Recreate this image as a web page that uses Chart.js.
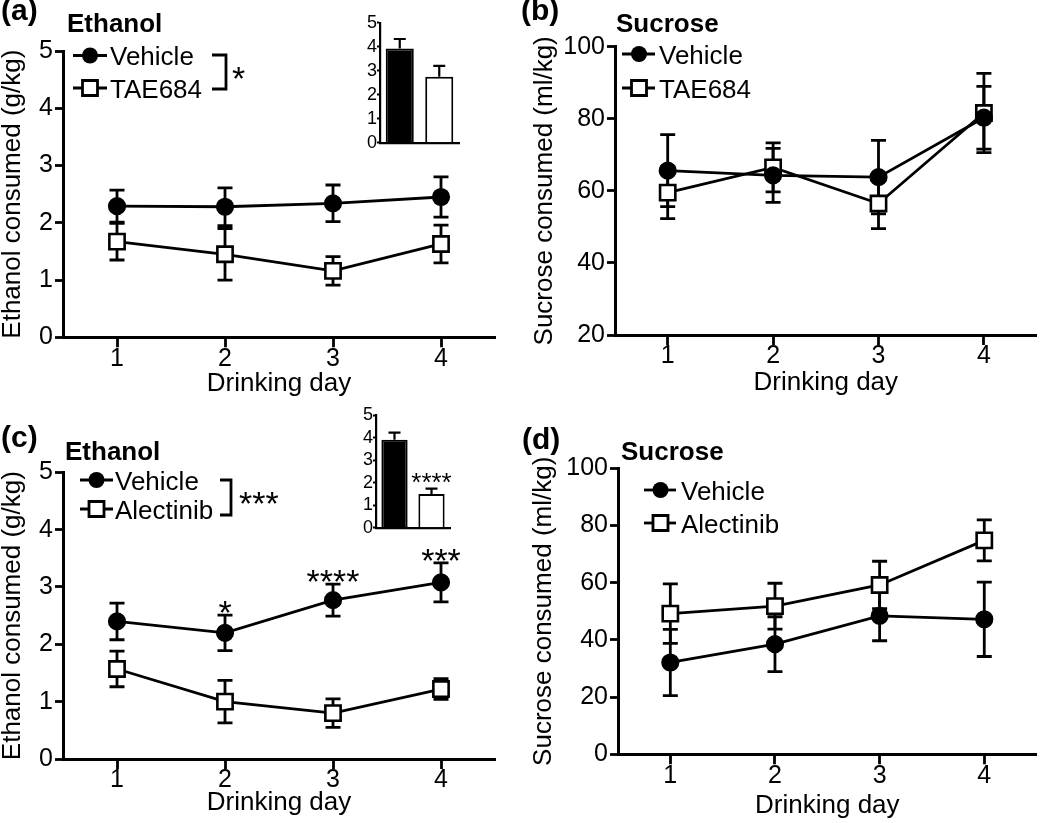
<!DOCTYPE html>
<html>
<head>
<meta charset="utf-8">
<script src="https://cdn.jsdelivr.net/npm/chart.js@4.4.1/dist/chart.umd.min.js"></script>
<style>
  html, body { margin: 0; padding: 0; background: #fff; }
  #fig { position: relative; width: 1050px; height: 823px; overflow: hidden; }
  #fig canvas { position: absolute; }
</style>
</head>
<body>
<div id="fig">
  <canvas id="panelA" width="520" height="410" style="left:0;top:0"></canvas>
  <canvas id="panelB" width="530" height="410" style="left:520px;top:0"></canvas>
  <canvas id="panelC" width="520" height="413" style="left:0;top:410px"></canvas>
  <canvas id="panelD" width="530" height="413" style="left:520px;top:410px"></canvas>
  <canvas id="insetA" width="115" height="155" style="left:350px;top:0"></canvas>
  <canvas id="insetC" width="110" height="135" style="left:346px;top:405px"></canvas>
</div>
<script>
// data (mean and SEM per drinking day)
const days = ['1', '2', '3', '4'];

const ethA_vehicle = [2.29, 2.28, 2.34, 2.45];
const ethA_vehicleSem = [0.28, 0.33, 0.32, 0.35];
const ethA_tae = [1.67, 1.45, 1.16, 1.63];
const ethA_taeSem = [0.32, 0.45, 0.25, 0.33];

const sucB_vehicle = [65.6, 64.3, 63.8, 80.3];
const sucB_vehicleSem = [10.0, 7.5, 10.2, 8.7];
const sucB_tae = [59.5, 66.5, 56.5, 81.6];
const sucB_taeSem = [7.2, 6.8, 7.0, 11.0];

const ethC_vehicle = [2.40, 2.20, 2.77, 3.08];
const ethC_vehicleSem = [0.32, 0.31, 0.28, 0.34];
const ethC_alec = [1.57, 1.00, 0.80, 1.22];
const ethC_alecSem = [0.31, 0.37, 0.25, 0.18];
const ethC_sig = ['', '*', '****', '***'];

const sucD_vehicle = [32.1, 38.5, 48.4, 47.2];
const sucD_vehicleSem = [11.6, 9.6, 8.7, 13.0];
const sucD_alec = [49.2, 51.8, 59.2, 74.8];
const sucD_alecSem = [10.4, 8.0, 8.3, 7.2];

// insets: total over the 4 days
const insetGroups = ['Vehicle', 'Drug'];
const insetA_mean = [3.93, 2.75];
const insetA_sem = [0.39, 0.45];
const insetC_mean = [3.90, 1.50];
const insetC_sem = [0.32, 0.23];
const insetC_sig = ['', '****'];

const FONT = "'Liberation Sans', Arial, Helvetica, sans-serif";
Chart.defaults.font.family = FONT;
Chart.defaults.color = '#000';

// SEM whiskers, drawn under the markers
const errorBars = {
  id: 'errorBars',
  beforeDatasetsDraw(chart) {
    const ctx = chart.ctx;
    const y = chart.scales.y;
    ctx.save();
    ctx.strokeStyle = '#000';
    chart.data.datasets.forEach((ds, i) => {
      if (!ds.sem) return;
      const meta = chart.getDatasetMeta(i);
      ctx.lineWidth = ds.errWidth || 2.8;
      const cap = ds.capHalf || 7.5;
      meta.data.forEach((el, j) => {
        const x = el.x;
        const yTop = y.getPixelForValue(ds.data[j] + ds.sem[j]);
        const yBot = ds.upOnly ? y.getPixelForValue(ds.data[j]) : y.getPixelForValue(ds.data[j] - ds.sem[j]);
        ctx.beginPath();
        ctx.moveTo(x, yBot); ctx.lineTo(x, yTop);
        ctx.moveTo(x - cap, yTop); ctx.lineTo(x + cap, yTop);
        if (!ds.upOnly) { ctx.moveTo(x - cap, yBot); ctx.lineTo(x + cap, yBot); }
        ctx.stroke();
      });
    });
    ctx.restore();
  }
};

// significance stars above the upper whisker
const sigStars = {
  id: 'sigStars',
  afterDatasetsDraw(chart, args, o) {
    const ctx = chart.ctx;
    const y = chart.scales.y;
    const size = o.size || 34;
    ctx.save();
    ctx.fillStyle = '#000';
    ctx.textAlign = 'center';
    ctx.textBaseline = 'alphabetic';
    ctx.font = size + 'px ' + FONT;
    chart.data.datasets.forEach((ds, i) => {
      if (!ds.sig) return;
      const meta = chart.getDatasetMeta(i);
      meta.data.forEach((el, j) => {
        if (!ds.sig[j]) return;
        const top = y.getPixelForValue(ds.data[j] + ds.sem[j]);
        ctx.fillText(ds.sig[j], el.x, top - (o.gap || 10) + 0.55 * size);
      });
    });
    ctx.restore();
  }
};

// panel tag, bold heading, legend with line-through markers, bracket
const decor = {
  id: 'decor',
  afterDraw(chart, args, o) {
    if (!o.tag) return;
    const ctx = chart.ctx;
    ctx.save();
    ctx.fillStyle = '#000';
    ctx.strokeStyle = '#000';
    ctx.textAlign = 'left';
    ctx.textBaseline = 'alphabetic';
    ctx.font = 'bold 30px ' + FONT;
    ctx.fillText(o.tag, o.tagX, o.tagY);
    ctx.font = 'bold 26px ' + FONT;
    ctx.fillText(o.title, o.titleX, o.titleY);

    const lg = o.legend;
    ctx.font = '26px ' + FONT;
    chart.data.datasets.forEach((ds, i) => {
      const yy = lg.rows[i];
      ctx.lineWidth = 2.8;
      ctx.beginPath();
      ctx.moveTo(lg.x0, yy); ctx.lineTo(lg.x1, yy);
      ctx.stroke();
      ctx.beginPath();
      if (ds.pointStyle === 'circle') {
        ctx.arc(lg.mx, yy, 8, 0, Math.PI * 2);
        ctx.fillStyle = '#000';
        ctx.fill();
      } else {
        ctx.rect(lg.mx - 7.5, yy - 7.5, 15, 15);
        ctx.fillStyle = '#fff';
        ctx.fill();
        ctx.stroke();
      }
      ctx.fillStyle = '#000';
      ctx.fillText(ds.label, lg.tx, yy + 9.5);
    });

    if (o.bracket) {
      const b = o.bracket;
      ctx.lineWidth = 2.8;
      ctx.beginPath();
      ctx.moveTo(b.x0, b.y0); ctx.lineTo(b.x1, b.y0);
      ctx.lineTo(b.x1, b.y1); ctx.lineTo(b.x0, b.y1);
      ctx.stroke();
      ctx.font = '34px ' + FONT;
      ctx.fillText(b.text, b.tx, b.ty + 0.55 * 34);
    }
    ctx.restore();
  }
};

Chart.register(errorBars, sigStars, decor);

function lineSeries(label, mean, sem, style, sig) {
  const circle = style === 'circle';
  return {
    label, data: mean, sem, sig,
    borderColor: '#000', borderWidth: 2.8, tension: 0, fill: false,
    pointStyle: style,
    pointRadius: circle ? 7.8 : 10.8,
    pointBackgroundColor: circle ? '#000' : '#fff',
    pointBorderColor: '#000', pointBorderWidth: 2.6
  };
}

function drinkingPanel(id, p) {
  const cv = document.getElementById(id);
  const W = cv.width, H = cv.height;
  return new Chart(cv, {
    type: 'line',
    data: { labels: days, datasets: p.series },
    options: {
      responsive: false, animation: false, devicePixelRatio: 1,
      events: [],
      layout: { padding: { left: p.padLeft, top: p.area.top, right: W - p.area.right, bottom: 0 } },
      plugins: {
        legend: { display: false }, tooltip: { enabled: false },
        decor: p.decor,
        sigStars: { size: 34, gap: 10 }
      },
      scales: {
        x: {
          type: 'category', offset: true,
          grid: { offset: false, drawOnChartArea: false, drawTicks: true, tickLength: 10, tickWidth: 2.8, tickColor: '#000' },
          border: { display: true, width: 3, color: '#000' },
          ticks: { font: { size: 25, lineHeight: 1 }, color: '#000', padding: -1, maxRotation: 0, autoSkip: false },
          title: { display: true, text: 'Drinking day', color: '#000', font: { size: 26, lineHeight: 1 }, padding: { top: 0, bottom: p.xTitlePad } },
          afterFit: s => { s.height = H - p.area.bottom; }
        },
        y: {
          min: p.yMin, max: p.yMax,
          grid: { drawOnChartArea: false, drawTicks: true, tickLength: 8, tickWidth: 2.8, tickColor: '#000' },
          border: { display: true, width: 3, color: '#000' },
          ticks: { stepSize: p.yStep, font: { size: 25, lineHeight: 1 }, color: '#000', padding: 2 },
          title: { display: true, text: p.yTitle, color: '#000', font: { size: 26, lineHeight: 1 }, padding: 0 },
          afterFit: s => { s.width = p.area.left - p.padLeft; }
        }
      }
    }
  });
}

function insetPanel(id, p) {
  const cv = document.getElementById(id);
  const W = cv.width, H = cv.height;
  return new Chart(cv, {
    type: 'bar',
    data: {
      labels: insetGroups,
      datasets: [{
        data: p.mean, sem: p.sem, sig: p.sig, upOnly: true, errWidth: 2.2, capHalf: 6,
        backgroundColor: ['#000', '#fff'], borderColor: '#000', borderWidth: 2,
        barPercentage: 0.71, categoryPercentage: 1
      }]
    },
    options: {
      responsive: false, animation: false, devicePixelRatio: 1,
      events: [],
      layout: { padding: { left: 0, top: p.area.top, right: W - p.area.right, bottom: 0 } },
      plugins: { legend: { display: false }, tooltip: { enabled: false }, sigStars: { size: 26, gap: 12 } },
      scales: {
        x: {
          type: 'category', offset: true,
          grid: { display: false },
          border: { display: true, width: 2.2, color: '#000' },
          ticks: { display: false },
          afterFit: s => { s.height = H - p.area.bottom; }
        },
        y: {
          min: 0, max: 5,
          grid: { drawOnChartArea: false, drawTicks: true, tickLength: 3, tickWidth: 2, tickColor: '#000' },
          border: { display: true, width: 2.2, color: '#000' },
          ticks: { stepSize: 1, font: { size: 18, lineHeight: 1 }, color: '#000', padding: 0 },
          afterFit: s => { s.width = p.area.left; }
        }
      }
    }
  });
}

drinkingPanel('panelA', {
  area: { left: 63, right: 495, top: 51, bottom: 337.3 }, padLeft: 0, xTitlePad: 13,
  yMin: 0, yMax: 5, yStep: 1, yTitle: 'Ethanol consumed (g/kg)',
  series: [
    lineSeries('Vehicle', ethA_vehicle, ethA_vehicleSem, 'circle'),
    lineSeries('TAE684', ethA_tae, ethA_taeSem, 'rect')
  ],
  decor: {
    tag: '(a)', tagX: 1, tagY: 20, title: 'Ethanol', titleX: 67, titleY: 31.5,
    legend: { rows: [55.5, 88], x0: 73, x1: 107, mx: 90, tx: 110 },
    bracket: { x0: 212, x1: 226, y0: 55, y1: 89, text: '*', tx: 232, ty: 71 }
  }
});

drinkingPanel('panelB', {
  area: { left: 95, right: 528, top: 46.7, bottom: 335 }, padLeft: 12, xTitlePad: 14,
  yMin: 20, yMax: 100, yStep: 20, yTitle: 'Sucrose consumed (ml/kg)',
  series: [
    lineSeries('Vehicle', sucB_vehicle, sucB_vehicleSem, 'circle'),
    lineSeries('TAE684', sucB_tae, sucB_taeSem, 'rect')
  ],
  decor: {
    tag: '(b)', tagX: 1, tagY: 20, title: 'Sucrose', titleX: 96, titleY: 31.5,
    legend: { rows: [54, 88], x0: 102, x1: 135, mx: 119, tx: 139 }
  }
});

drinkingPanel('panelC', {
  area: { left: 63, right: 495, top: 62.3, bottom: 349 }, padLeft: 0, xTitlePad: 7,
  yMin: 0, yMax: 5, yStep: 1, yTitle: 'Ethanol consumed (g/kg)',
  series: [
    lineSeries('Vehicle', ethC_vehicle, ethC_vehicleSem, 'circle', ethC_sig),
    lineSeries('Alectinib', ethC_alec, ethC_alecSem, 'rect')
  ],
  decor: {
    tag: '(c)', tagX: 1, tagY: 37, title: 'Ethanol', titleX: 65, titleY: 50,
    legend: { rows: [70, 99], x0: 80, x1: 113, mx: 96.5, tx: 115 },
    bracket: { x0: 220, x1: 231, y0: 70, y1: 105, text: '***', tx: 239, ty: 86 }
  }
});

drinkingPanel('panelD', {
  area: { left: 98, right: 528, top: 58.3, bottom: 344.3 }, padLeft: 11, xTitlePad: 4.5,
  yMin: 0, yMax: 100, yStep: 20, yTitle: 'Sucrose consumed (ml/kg)',
  series: [
    lineSeries('Vehicle', sucD_vehicle, sucD_vehicleSem, 'circle'),
    lineSeries('Alectinib', sucD_alec, sucD_alecSem, 'rect')
  ],
  decor: {
    tag: '(d)', tagX: 2, tagY: 39, title: 'Sucrose', titleX: 101, titleY: 50,
    legend: { rows: [80, 113], x0: 124, x1: 156, mx: 140.5, tx: 161 }
  }
});

insetPanel('insetA', { area: { left: 30, right: 109, top: 22.7, bottom: 142.7 }, mean: insetA_mean, sem: insetA_sem });
insetPanel('insetC', { area: { left: 30, right: 104, top: 10, bottom: 122.7 }, mean: insetC_mean, sem: insetC_sem, sig: insetC_sig });
</script>
</body>
</html>
